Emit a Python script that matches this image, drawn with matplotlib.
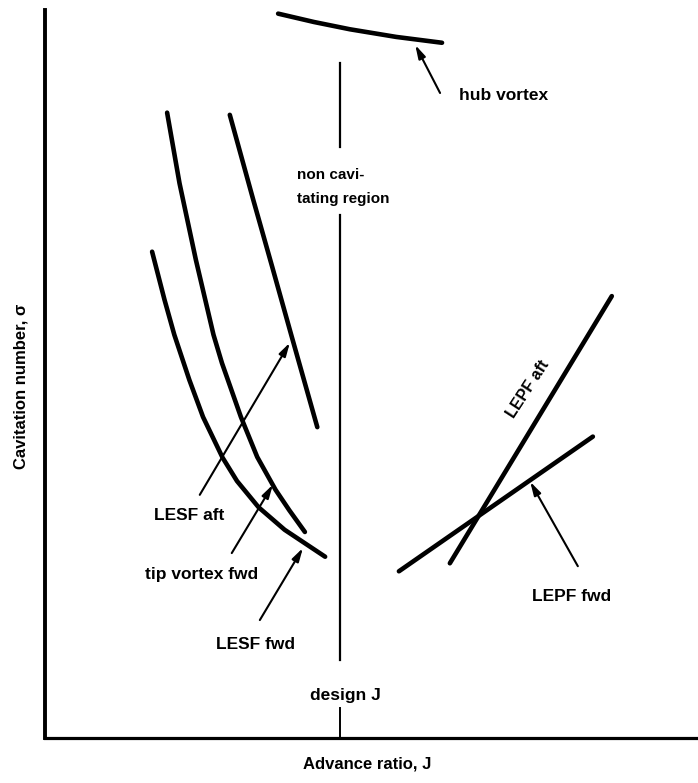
import matplotlib.pyplot as plt

plt.rcParams['font.family'] = ['Liberation Sans', 'DejaVu Sans']

# schematic curves, J (advance ratio) vs sigma (cavitation number), arbitrary units 0..10
lesf_aft_J = [2.83, 3.19, 3.48, 3.77, 4.17]
lesf_aft_s = [8.56, 7.39, 6.47, 5.54, 4.27]

tip_fwd_J = [1.87, 2.06, 2.31, 2.58, 2.71, 3.00, 3.25, 3.53, 3.74, 3.98]
tip_fwd_s = [8.59, 7.62, 6.57, 5.54, 5.15, 4.41, 3.86, 3.41, 3.13, 2.83]

lesf_fwd_J = [1.64, 1.83, 1.98, 2.21, 2.42, 2.72, 2.94, 3.27, 3.67, 4.29]
lesf_fwd_s = [6.68, 6.02, 5.54, 4.92, 4.41, 3.85, 3.53, 3.17, 2.86, 2.49]

hub_J = [3.57, 4.12, 4.67, 5.38, 6.08]
hub_s = [9.95, 9.835, 9.735, 9.63, 9.55]

lepf_aft_J = [6.20, 8.68]
lepf_aft_s = [2.40, 6.07]

lepf_fwd_J = [5.42, 8.39]
lepf_fwd_s = [2.29, 4.14]

design_J = 4.52

# label arrows: (arrow tail, arrow head)
arrows = {
    'hub vortex': ((6.05, 8.86), (5.67, 9.52)),
    'LESF aft': ((2.37, 3.34), (3.75, 5.43)),
    'tip vortex fwd': ((2.86, 2.54), (3.49, 3.48)),
    'LESF fwd': ((3.29, 1.62), (3.95, 2.61)),
    'LEPF fwd': ((8.16, 2.36), (7.43, 3.52)),
}

fig = plt.figure(figsize=(6.98, 7.83), dpi=100)
ax = fig.add_axes([45/698, 45/783, 653/698, 728/783])
ax.set_xlim(0, 10)
ax.set_ylim(0, 10)

lw = 3.3
for xs, ys in [(lesf_aft_J, lesf_aft_s), (tip_fwd_J, tip_fwd_s), (lesf_fwd_J, lesf_fwd_s),
               (hub_J, hub_s), (lepf_aft_J, lepf_aft_s), (lepf_fwd_J, lepf_fwd_s)]:
    ax.plot(xs, ys, color='black', lw=lw, solid_capstyle='round',
            solid_joinstyle='round', clip_on=False)

# design J line with gap for the text
ax.plot([design_J, design_J], [8.12, 9.27], color='black', lw=1.6)
ax.plot([design_J, design_J], [1.07, 7.18], color='black', lw=1.6)
ax.plot([design_J, design_J], [0, 0.41], color='black', lw=1.4)

for name, (tail, head) in arrows.items():
    ax.annotate('', xy=head, xytext=tail,
                arrowprops=dict(arrowstyle='-|>,head_length=0.8,head_width=0.22',
                                color='black', lw=1.5, shrinkA=0, shrinkB=0))

tkw = dict(fontsize=12.5, fontweight='bold', color='black')
ax.text(6.34, 8.83, 'hub vortex', ha='left', va='center', **tkw)
ax.text(3.86, 7.57, 'non cavi-\ntating region', ha='left', va='center',
        linespacing=1.9, fontsize=11, fontweight='bold')
ax.text(2.21, 3.06, 'LESF aft', ha='center', va='center', **tkw)
ax.text(2.39, 2.24, 'tip vortex fwd', ha='center', va='center', **tkw)
ax.text(3.22, 1.28, 'LESF fwd', ha='center', va='center', **tkw)
ax.text(8.06, 1.94, 'LEPF fwd', ha='center', va='center', **tkw)
ax.text(7.40, 4.79, 'LEPF aft', ha='center', va='center', rotation=57,
        rotation_mode='anchor', fontsize=11.5, fontweight='bold')
ax.text(4.60, 0.59, 'design J', ha='center', va='center', **tkw)

for side in ['top', 'right']:
    ax.spines[side].set_visible(False)
ax.spines['left'].set_linewidth(2.8)
ax.spines['bottom'].set_linewidth(2.3)
ax.set_xticks([])
ax.set_yticks([])

fig.text(367/698, 1 - 764/783, 'Advance ratio, J', ha='center', va='center',
         fontsize=12, fontweight='bold')
fig.text(21/698, 1 - 386/783, 'Cavitation number, \u03c3', ha='center', va='center',
         rotation=90, fontsize=12, fontweight='bold')

fig.savefig('out.png', dpi=100, facecolor='white')
